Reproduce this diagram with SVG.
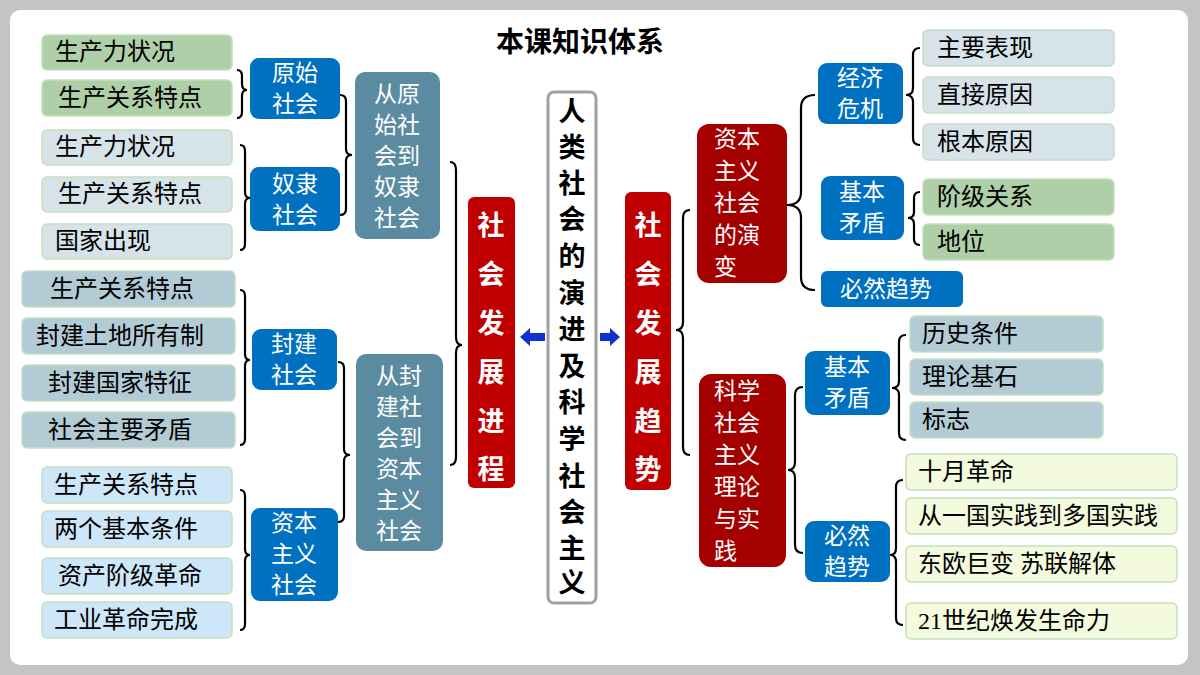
<svg xmlns="http://www.w3.org/2000/svg" width="1200" height="675" viewBox="0 0 1200 675">
<style>
text{font-family:"Liberation Serif","Noto Sans CJK SC",serif;dominant-baseline:central}
.lf{font-size:24px;fill:#000}
.wt{font-size:23px;fill:#fff}
.bd{font-family:"Noto Sans CJK SC",sans-serif;font-weight:bold}
.br{fill:none;stroke:#000;stroke-width:2.2}
.g{fill:#aecfa8;stroke:#c5dfc0;stroke-width:1.5}
.l{fill:#d6e3e9;stroke:#c5dfc0;stroke-width:1.5}
.s{fill:#b3cbd5;stroke:#c5dfc0;stroke-width:1.5}
.c{fill:#cde6f8;stroke:#c5dfc0;stroke-width:1.5}
.y{fill:#f3fadd;stroke:#c5dfc0;stroke-width:1.5}
.b{fill:#0070c0}
.t{fill:#5b8ba0}
.r{fill:#c00000}
.d{fill:#a50000}
</style>
<rect x="0" y="0" width="1200" height="675" fill="#c4c4c4"/>
<rect x="10" y="10" width="1178" height="655" rx="10" fill="#fff"/>
<text x="580" y="40" class="bd" font-size="28" text-anchor="middle">本课知识体系</text>

<g id="connectors">
<path class="br" d="M237,70 Q242,70 242,76 L242,84 Q242,90 247,90 Q242,90 242,96 L242,112 Q242,118 237,118"/>
<path class="br" d="M240,145 Q245,145 245,151 L245,192 Q245,198 250,198 Q245,198 245,204 L245,244 Q245,250 240,250"/>
<path class="br" d="M340,95 Q346,95 346,101 L346,149 Q346,155 352,155 Q346,155 346,161 L346,209 Q346,215 340,215"/>
<path class="br" d="M240,290 Q245,290 245,296 L245,354 Q245,360 250,360 Q245,360 245,366 L245,439 Q245,445 240,445"/>
<path class="br" d="M338,362 Q344,362 344,368 L344,449 Q344,455 350,455 Q344,455 344,461 L344,516 Q344,522 338,522"/>
<path class="br" d="M240,490 Q245,490 245,496 L245,549 Q245,555 250,555 Q245,555 245,561 L245,624 Q245,630 240,630"/>
<path class="br" d="M450,162 Q456,162 456,170 L456,337 Q456,345 462,345 Q456,345 456,353 L456,457 Q456,465 450,465"/>
<path class="br" d="M690,210 Q683,210 683,218 L683,322 Q683,330 676,330 Q683,330 683,338 L683,447 Q683,455 690,455"/>
<path class="br" d="M815,95 Q801,95 801,108 L801,192 Q801,205 787,205 Q801,205 801,218 L801,277 Q801,290 815,290"/>
<path class="br" d="M920,48 Q913,48 913,55 L913,88 Q913,95 906,95 Q913,95 913,102 L913,138 Q913,145 920,145"/>
<path class="br" d="M920,192 Q914,192 914,198 L914,212 Q914,218 908,218 Q914,218 914,224 L914,239 Q914,245 920,245"/>
<path class="br" d="M803,387 Q795,387 795,395 L795,462 Q795,470 788,470 Q795,470 795,478 L795,545 Q795,553 803,553"/>
<path class="br" d="M906,335 Q899,335 899,342 L899,381 Q899,388 892,388 Q899,388 899,395 L899,433 Q899,440 906,440"/>
<path class="br" d="M903,480 Q896,480 896,487 L896,548 Q896,555 890,555 Q896,555 896,562 L896,618 Q896,625 903,625"/>
<path d="M520,337 L530,328 L530,333 L545,333 L545,341 L530,341 L530,346 Z" fill="#1030d0"/>
<path d="M620,337 L610,328 L610,333 L600,333 L600,341 L610,341 L610,346 Z" fill="#1030d0"/>
</g>

<g id="n-yuanshi-leaf1"><rect class="g" x="42" y="35" width="190" height="35" rx="5"/><text class="lf" x="55" y="52">生产力状况</text></g>
<g id="n-yuanshi-leaf2"><rect class="g" x="42" y="80" width="190" height="36" rx="5"/><text class="lf" x="58" y="98">生产关系特点</text></g>
<g id="n-nuli-leaf1"><rect class="l" x="42" y="130" width="190" height="35" rx="5"/><text class="lf" x="55" y="147">生产力状况</text></g>
<g id="n-nuli-leaf2"><rect class="l" x="42" y="177" width="190" height="35" rx="5"/><text class="lf" x="58" y="194">生产关系特点</text></g>
<g id="n-nuli-leaf3"><rect class="l" x="42" y="224" width="190" height="35" rx="5"/><text class="lf" x="55" y="241">国家出现</text></g>
<g id="n-fj-leaf1"><rect class="s" x="22" y="271" width="213" height="36" rx="5"/><text class="lf" x="50" y="289">生产关系特点</text></g>
<g id="n-fj-leaf2"><rect class="s" x="22" y="318" width="213" height="36" rx="5"/><text class="lf" x="36" y="336">封建土地所有制</text></g>
<g id="n-fj-leaf3"><rect class="s" x="22" y="365" width="213" height="36" rx="5"/><text class="lf" x="48" y="383">封建国家特征</text></g>
<g id="n-fj-leaf4"><rect class="s" x="22" y="412" width="213" height="36" rx="5"/><text class="lf" x="48" y="430">社会主要矛盾</text></g>
<g id="n-zb-leaf1"><rect class="c" x="42" y="467" width="190" height="36" rx="5"/><text class="lf" x="54" y="485">生产关系特点</text></g>
<g id="n-zb-leaf2"><rect class="c" x="42" y="511" width="190" height="36" rx="5"/><text class="lf" x="54" y="529">两个基本条件</text></g>
<g id="n-zb-leaf3"><rect class="c" x="42" y="558" width="190" height="36" rx="5"/><text class="lf" x="58" y="576">资产阶级革命</text></g>
<g id="n-zb-leaf4"><rect class="c" x="42" y="602" width="190" height="36" rx="5"/><text class="lf" x="54" y="620">工业革命完成</text></g>

<g id="n-yuanshi"><rect class="b" x="250" y="58" width="90" height="61" rx="9"/><text class="wt" x="295" y="73" text-anchor="middle">原始</text><text class="wt" x="295" y="104" text-anchor="middle">社会</text></g>
<g id="n-nuli"><rect class="b" x="250" y="167" width="90" height="64" rx="9"/><text class="wt" x="295" y="184" text-anchor="middle">奴隶</text><text class="wt" x="295" y="215" text-anchor="middle">社会</text></g>
<g id="n-fengjian"><rect class="b" x="252" y="329" width="85" height="61" rx="9"/><text class="wt" x="294" y="344" text-anchor="middle">封建</text><text class="wt" x="294" y="375" text-anchor="middle">社会</text></g>
<g id="n-ziben"><rect class="b" x="251" y="508" width="87" height="93" rx="9"/><text class="wt" x="294" y="523" text-anchor="middle">资本</text><text class="wt" x="294" y="554" text-anchor="middle">主义</text><text class="wt" x="294" y="585" text-anchor="middle">社会</text></g>

<g id="n-cong-yuanshi"><rect class="t" x="355" y="72" width="85" height="167" rx="10"/>
<text class="wt" x="397" y="94" text-anchor="middle">从原</text><text class="wt" x="397" y="125" text-anchor="middle">始社</text><text class="wt" x="397" y="156" text-anchor="middle">会到</text><text class="wt" x="397" y="187" text-anchor="middle">奴隶</text><text class="wt" x="397" y="218" text-anchor="middle">社会</text></g>
<g id="n-cong-fengjian"><rect class="t" x="356" y="354" width="87" height="197" rx="10"/>
<text class="wt" x="399" y="376" text-anchor="middle">从封</text><text class="wt" x="399" y="407" text-anchor="middle">建社</text><text class="wt" x="399" y="438" text-anchor="middle">会到</text><text class="wt" x="399" y="469" text-anchor="middle">资本</text><text class="wt" x="399" y="500" text-anchor="middle">主义</text><text class="wt" x="399" y="531" text-anchor="middle">社会</text></g>

<g id="n-jincheng"><rect class="r" x="468" y="197" width="47" height="291" rx="6"/>
<g class="bd" font-size="27" fill="#fff" text-anchor="middle"><text x="491" y="226">社</text><text x="491" y="275">会</text><text x="491" y="324">发</text><text x="491" y="373">展</text><text x="491" y="422">进</text><text x="491" y="470">程</text></g></g>

<g id="n-center"><rect x="548" y="92" width="48" height="511" rx="6" fill="#fff" stroke="#a0a0a0" stroke-width="3"/>
<g class="bd" font-size="27" fill="#000" text-anchor="middle"><text x="572" y="112">人</text><text x="572" y="148">类</text><text x="572" y="184">社</text><text x="572" y="220">会</text><text x="572" y="257">的</text><text x="572" y="294">演</text><text x="572" y="330">进</text><text x="572" y="367">及</text><text x="572" y="403">科</text><text x="572" y="440">学</text><text x="572" y="477">社</text><text x="572" y="513">会</text><text x="572" y="549">主</text><text x="572" y="583">义</text></g></g>

<g id="n-qushi"><rect class="r" x="625" y="192" width="46" height="298" rx="6"/>
<g class="bd" font-size="27" fill="#fff" text-anchor="middle"><text x="648" y="226">社</text><text x="648" y="275">会</text><text x="648" y="324">发</text><text x="648" y="373">展</text><text x="648" y="422">趋</text><text x="648" y="470">势</text></g></g>

<g id="n-zbzy"><rect class="d" x="697" y="124" width="90" height="159" rx="12"/>
<text class="wt" x="714" y="139">资本</text><text class="wt" x="714" y="171">主义</text><text class="wt" x="714" y="203">社会</text><text class="wt" x="714" y="235">的演</text><text class="wt" x="714" y="267">变</text></g>
<g id="n-kxsh"><rect class="d" x="699" y="374" width="87" height="193" rx="12"/>
<text class="wt" x="714" y="391">科学</text><text class="wt" x="714" y="423">社会</text><text class="wt" x="714" y="455">主义</text><text class="wt" x="714" y="487">理论</text><text class="wt" x="714" y="519">与实</text><text class="wt" x="714" y="551">践</text></g>

<g id="n-jjwj"><rect class="b" x="818" y="63" width="85" height="61" rx="9"/><text class="wt" x="860" y="78" text-anchor="middle">经济</text><text class="wt" x="860" y="109" text-anchor="middle">危机</text></g>
<g id="n-jbmd1"><rect class="b" x="821" y="176" width="83" height="64" rx="9"/><text class="wt" x="862" y="192" text-anchor="middle">基本</text><text class="wt" x="862" y="223" text-anchor="middle">矛盾</text></g>
<g id="n-brqs1"><rect class="b" x="821" y="271" width="142" height="36" rx="6"/><text class="wt" x="840" y="289">必然趋势</text></g>
<g id="n-jbmd2"><rect class="b" x="805" y="351" width="85" height="64" rx="9"/><text class="wt" x="847" y="367" text-anchor="middle">基本</text><text class="wt" x="847" y="398" text-anchor="middle">矛盾</text></g>
<g id="n-brqs2"><rect class="b" x="805" y="521" width="85" height="61" rx="9"/><text class="wt" x="847" y="536" text-anchor="middle">必然</text><text class="wt" x="847" y="567" text-anchor="middle">趋势</text></g>

<g id="n-r1"><rect class="l" x="923" y="30" width="191" height="36" rx="5"/><text class="lf" x="937" y="48">主要表现</text></g>
<g id="n-r2"><rect class="l" x="923" y="77" width="191" height="36" rx="5"/><text class="lf" x="937" y="95">直接原因</text></g>
<g id="n-r3"><rect class="l" x="923" y="124" width="191" height="36" rx="5"/><text class="lf" x="937" y="142">根本原因</text></g>
<g id="n-r4"><rect class="g" x="923" y="179" width="191" height="36" rx="5"/><text class="lf" x="937" y="197">阶级关系</text></g>
<g id="n-r5"><rect class="g" x="923" y="224" width="191" height="36" rx="5"/><text class="lf" x="937" y="242">地位</text></g>
<g id="n-r6"><rect class="s" x="910" y="316" width="193" height="36" rx="5"/><text class="lf" x="922" y="334">历史条件</text></g>
<g id="n-r7"><rect class="s" x="910" y="359" width="193" height="36" rx="5"/><text class="lf" x="922" y="377">理论基石</text></g>
<g id="n-r8"><rect class="s" x="910" y="402" width="193" height="36" rx="5"/><text class="lf" x="922" y="420">标志</text></g>
<g id="n-r9"><rect class="y" x="906" y="454" width="271" height="36" rx="5"/><text class="lf" x="918" y="472">十月革命</text></g>
<g id="n-r10"><rect class="y" x="906" y="498" width="271" height="36" rx="5"/><text class="lf" x="918" y="516" font-size="21">从一国实践到多国实践</text></g>
<g id="n-r11"><rect class="y" x="906" y="546" width="271" height="36" rx="5"/><text class="lf" x="918" y="564">东欧巨变  苏联解体</text></g>
<g id="n-r12"><rect class="y" x="906" y="603" width="271" height="36" rx="5"/><text class="lf" x="918" y="621">21世纪焕发生命力</text></g>
</svg>
